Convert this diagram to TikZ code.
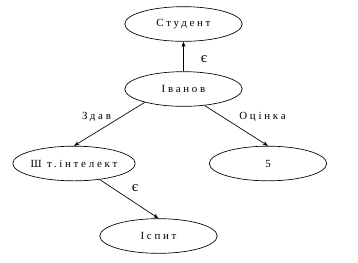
\documentclass[tikz,border=0pt]{standalone}
\usepackage{fontspec}
\setmainfont{Liberation Serif}[LetterSpace=25]
\usetikzlibrary{arrows.meta,shapes.geometric}

\begin{document}
\begin{tikzpicture}[x=0.75pt,y=-0.75pt,font=\fontsize{8.2}{10}\selectfont,
    concept/.style={draw,ellipse,minimum width=88pt,minimum height=26pt,inner sep=0pt,line width=0.5pt},
    link/.style={-{Stealth[length=4pt,width=3pt]},line width=0.5pt},
    isa/.style={font=\fontsize{11}{12}\selectfont}]
  \useasboundingbox (0,0) rectangle (358,262);

  % concepts: {name}/{x}/{y}/{text}
  \foreach \n/\x/\y/\t in {%
    student/183.5/24/{Студент},
    ivanov/183.5/89/{Іванов},
    shtint/74/163.5/{Ш т.інтелект},
    five/268/163.5/{5},
    ispyt/158.5/236/{Іспит}}{
      \node[concept] (\n) at (\x,\y) {\t};
  }

  % relations: {from}/{to}
  \foreach \a/\b in {ivanov.north/student.south, ivanov.-161/shtint.north,
    ivanov.-38/five.north, shtint.-32/ispyt.north}{
      \draw[link] (\a) -- (\b);
  }

  % relation names
  \node[isa] (isA) at (204,59) {є};
  \node (passed) at (96.5,117) {Здав};
  \node (mark) at (262.5,117) {Оцінка};
  \node[isa] (isB) at (135,188) {є};
\end{tikzpicture}
\end{document}
